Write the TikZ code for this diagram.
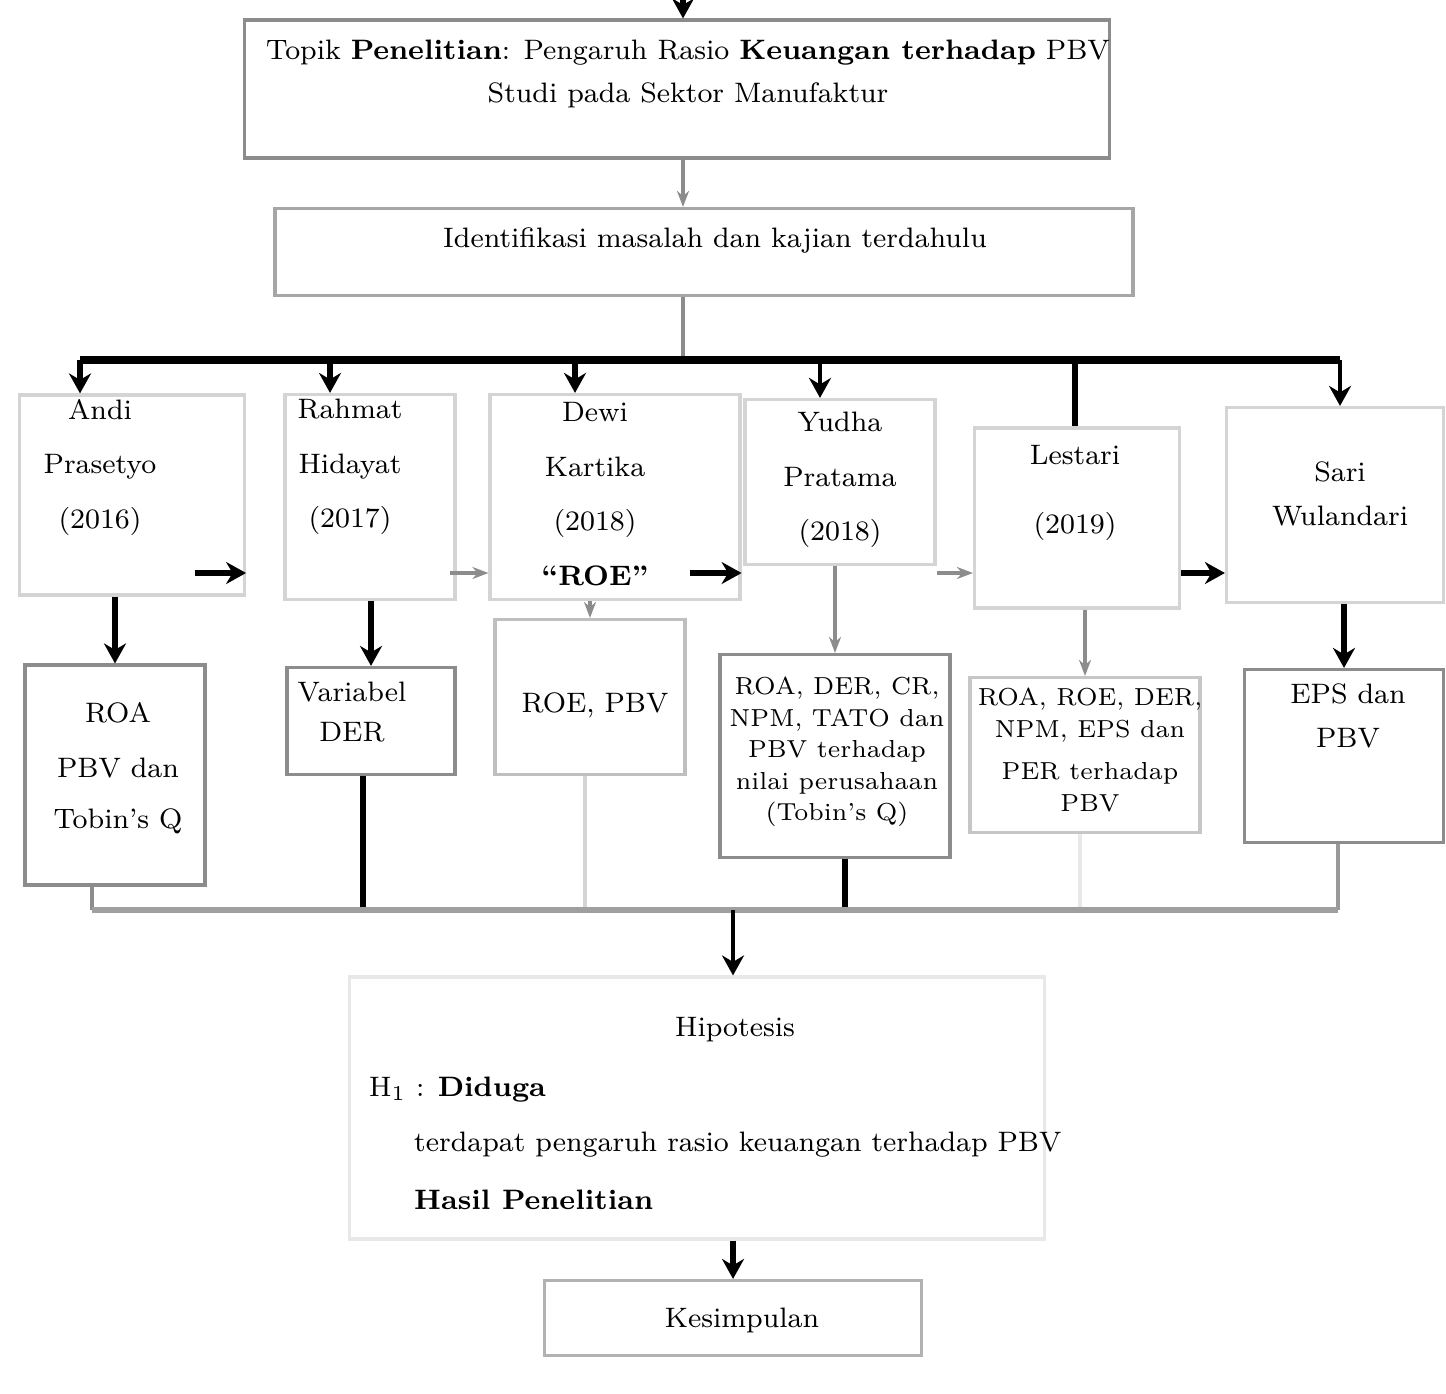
\documentclass[tikz,border=0pt]{standalone}
\usepackage{tikz}
\usetikzlibrary{arrows.meta,positioning,calc}
\definecolor{colrim}{HTML}{8C8C8C}
\definecolor{colfaint}{HTML}{D4D4D4}
\definecolor{colpale}{HTML}{E8E8E8}

\begin{document}
\begin{tikzpicture}[
  x=0.1mm, y=-0.1mm,
  font=\footnotesize,
  card/.style={draw=colrim,line width=0.9pt,inner sep=0pt},
  ghost/.style={draw=colfaint,line width=0.9pt,inner sep=0pt},
  txt/.style={align=center,inner sep=1pt},
  bus/.style={line width=2pt},
  feed/.style={-{Stealth[length=2mm,width=2.2mm]},line width=1.5pt},
  soft/.style={-{Stealth[length=1.6mm]},line width=1pt,draw=colrim},
]
  \useasboundingbox (0,0) rectangle (1446,1393);
  % ---------------- judul ----------------
  \node[card,minimum width=8.65cm,minimum height=1.38cm] (judul) at (677,89) {};
  \node[txt] (judultxt) at (688,74)
    {Topik \textbf{Penelitian}: Pengaruh Rasio \textbf{Keuangan terhadap} PBV\\[3pt]
     Studi pada Sektor Manufaktur};
  \coordinate (masuk) at (683,0);
  \draw[feed] (masuk) -- (masuk |- judul.north);
  % ---------------- identifikasi ----------------
  \node[card,draw=gray!70,minimum width=8.58cm,minimum height=0.87cm] (ident) at (704,252) {};
  \node[txt] (identtxt) at (715,240) {Identifikasi masalah dan kajian terdahulu};
  \draw[soft] (masuk |- judul.south) -- (masuk |- ident.north);
  % ---------------- bus atas ----------------
  \coordinate (b0) at (683,360);
  \coordinate (b1) at (80,360);
  \coordinate (b2) at (330,360);
  \coordinate (b3) at (575,360);
  \coordinate (b4) at (820,360);
  \coordinate (b5) at (1075,360);
  \coordinate (b6) at (1340,360);
  \draw[line width=1.2pt,draw=colrim] (b0 |- ident.south) -- (b0);
  \draw[bus] (b1) -- (b6);
  % ---------------- penelitian terdahulu ----------------
  \node[ghost,minimum width=2.25cm,minimum height=2.0cm] (c1) at (132,495) {};
  \node[ghost,minimum width=1.70cm,minimum height=2.05cm] (c2) at (370,497) {};
  \node[ghost,minimum width=2.50cm,minimum height=2.05cm] (c3) at (615,497) {};
  \node[ghost,minimum width=1.90cm,minimum height=1.65cm] (c4) at (840,482) {};
  \node[ghost,minimum width=2.05cm,minimum height=1.80cm] (c5) at (1077,518) {};
  \node[ghost,minimum width=2.17cm,minimum height=1.95cm] (c6) at (1335,505) {};
  \node[txt] (c1txt) at (100,467) {Andi\\[6pt] Prasetyo\\[6pt] (2016)};
  \node[txt] (c2txt) at (350,467) {Rahmat\\[6pt] Hidayat\\[6pt] (2017)};
  \node[txt] (c3txt) at (595,494) {Dewi\\[6pt] Kartika\\[6pt] (2018)\\[6pt] \textbf{``ROE''}};
  \node[txt] (c4txt) at (840,480) {Yudha\\[6pt] Pratama\\[6pt] (2018)};
  \node[txt] (c5txt) at (1075,493) {Lestari\\[10pt] (2019)};
  \node[txt] (c6txt) at (1340,494) {Sari\\[3pt] Wulandari};
  \draw[feed] (b1) -- (b1 |- c1.north);
  \draw[feed] (b2) -- (b2 |- c2.north);
  \draw[feed] (b3) -- (b3 |- c3.north);
  \draw[feed,line width=1pt] (b4) -- (b4 |- c4.north);
  \draw[bus,line width=1.5pt] (b5) -- (b5 |- c5.north);
  \draw[feed,line width=1pt] (b6) -- (b6 |- c6.north);
  % panah antar kolom
  \coordinate (h1) at (195,573);
  \coordinate (h2) at (450,573);
  \coordinate (h3) at (690,573);
  \draw[feed] (h1) -- (h1 -| c1.east);
  \draw[soft] (h2) -- (h2 -| c3.west);
  \draw[feed] (h3) -- (h3 -| c3.east);
  \draw[soft] (h3 -| c4.east) -- (h3 -| c5.west);
  \draw[feed] (h3 -| c5.east) -- (h3 -| c6.west);
  % ---------------- variabel ----------------
  \node[card,minimum width=1.80cm,minimum height=2.20cm] (l1) at (115,775) {};
  \node[card,minimum width=1.68cm,minimum height=1.07cm] (l2) at (371,721) {};
  \node[card,draw=gray!50,minimum width=1.90cm,minimum height=1.55cm] (l3) at (590,697) {};
  \node[card,draw=gray!90,minimum width=2.30cm,minimum height=2.03cm] (l4) at (835,756) {};
  \node[card,draw=gray!45,minimum width=2.30cm,minimum height=1.55cm] (l5) at (1085,755) {};
  \node[card,minimum width=1.99cm,minimum height=1.73cm] (l6) at (1344,756) {};
  \node[txt] (l1txt) at (118,768) {ROA\\[6pt] PBV dan\\[5pt] Tobin's Q};
  \node[txt] (l2txt) at (352,712) {Variabel\\[2pt] DER};
  \node[txt] (l3txt) at (595,705) {ROE, PBV};
  \node[txt,font=\scriptsize] (l4txt) at (837,752) {ROA, DER, CR,\\[1pt] NPM, TATO dan\\[1pt] PBV terhadap\\[1pt] nilai perusahaan\\[1pt] (Tobin's Q)};
  \node[txt,font=\scriptsize] (l5txt) at (1090,750) {ROA, ROE, DER,\\[1pt] NPM, EPS dan\\[4pt] PER terhadap\\[1pt] PBV};
  \node[txt] (l6txt) at (1348,716) {EPS dan\\[3pt] PBV};
  \draw[feed] (c1.south -| l1.north) -- (l1.north);
  \draw[feed] (c2.south -| l2.north) -- (l2.north);
  \draw[soft] (c3.south -| l3.north) -- (l3.north);
  \draw[soft] (c4.south -| l4.north) -- (l4.north);
  \draw[soft] (c5.south -| l5.north) -- (l5.north);
  \draw[feed] (c6.south -| l6.north) -- (l6.north);
  % ---------------- bus bawah ----------------
  \coordinate (d1) at (92,910);
  \coordinate (d2) at (363,910);
  \coordinate (d3) at (585,910);
  \coordinate (d4) at (845,910);
  \coordinate (d5) at (1080,910);
  \coordinate (d6) at (1338,910);
  \coordinate (dm) at (733,910);
  \draw[line width=1.2pt,draw=colrim] (d1 |- l1.south) -- (d1);
  \draw[bus,line width=1.6pt] (d2 |- l2.south) -- (d2);
  \draw[line width=1.2pt,draw=colfaint] (d3 |- l3.south) -- (d3);
  \draw[bus,line width=1.6pt] (d4 |- l4.south) -- (d4);
  \draw[line width=1.2pt,draw=colpale] (d5 |- l5.south) -- (d5);
  \draw[line width=1.4pt,draw=gray!80] (d6 |- l6.south) -- (d6);
  \draw[line width=1.6pt,draw=gray!75] (d1) -- (d6);
  % ---------------- hipotesis ----------------
  \node[ghost,draw=colpale,minimum width=6.95cm,minimum height=2.62cm] (hipo) at (697,1108) {};
  \draw[feed,line width=1.1pt] (dm) -- (dm |- hipo.north);
  \node[txt] (hipotxt) at (735,1030) {Hipotesis};
  \node[txt,anchor=west] (ha) at (365,1090) {H$_1$ : \textbf{Diduga}};
  \node[txt,anchor=west] (hb) at (410,1145) {terdapat pengaruh rasio keuangan terhadap PBV};
  \node[txt,anchor=west] (hc) at (410,1200) {\textbf{Hasil Penelitian}};
  % ---------------- kesimpulan ----------------
  \node[card,draw=gray!60,minimum width=3.77cm,minimum height=0.75cm] (simpul) at (733,1318) {};
  \node[txt] (simpultxt) at (742,1320) {Kesimpulan};
  \draw[feed] (dm |- hipo.south) -- (dm |- simpul.north);
\end{tikzpicture}
\end{document}
